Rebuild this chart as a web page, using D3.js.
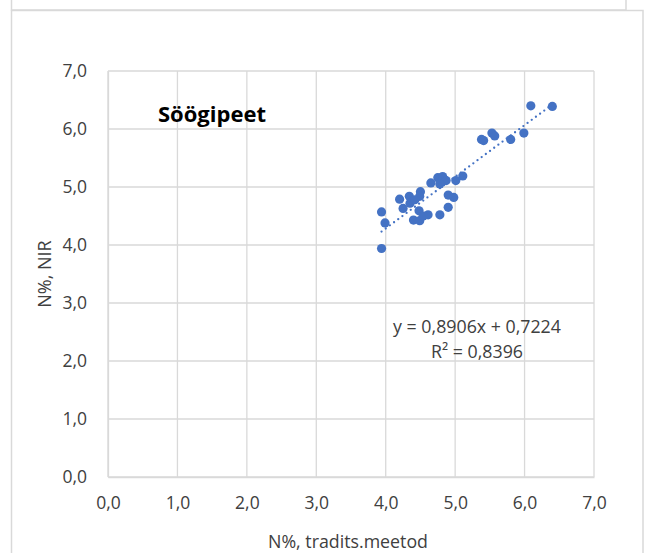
<!DOCTYPE html>
<html><head><meta charset="utf-8">
<script src="https://cdn.jsdelivr.net/npm/d3@7"></script>
<style>body{margin:0;background:#fff;} svg{display:block;}</style>
</head><body>
<script>
const xValues = [6.09,6.40,5.38,5.41,5.53,5.57,5.80,5.99,5.11,5.01,4.65,4.78,4.84,4.75,4.82,4.87,4.78,4.20,4.34,4.50,4.49,4.25,4.35,4.42,4.90,4.98,4.90,4.78,4.61,4.48,4.40,4.49,4.54,3.94,3.99,3.94];
const yValues = [6.40,6.39,5.82,5.80,5.93,5.88,5.82,5.93,5.19,5.11,5.07,5.13,5.13,5.16,5.18,5.11,5.05,4.79,4.84,4.92,4.84,4.63,4.72,4.78,4.86,4.82,4.65,4.52,4.52,4.59,4.43,4.42,4.50,4.57,4.38,3.94];
const xTicks = [0,1,2,3,4,5,6,7];
const yTicks = [0,1,2,3,4,5,6,7];
const trendCoef = [0.8906, 0.7224];
const title = "Söögipeet";
const xTitle = "N%, tradits.meetod";
const yTitle = "N%, NIR";
const eqLines = ["y = 0,8906x + 0,7224", "R² = 0,8396"];

const W = 652, H = 553;
const svg = d3.select("body").append("svg").attr("width", W).attr("height", H);
const font = "'Open Sans', sans-serif";
const grey = "#d9d9d9";
const blue = "#4472C4";
const txt = "#404040";

// frames
svg.append("path").attr("d", "M11.5,0 V10 H626 V0").attr("fill","none").attr("stroke",grey).attr("stroke-width",1.5);
svg.append("path").attr("d", "M11.5,553 V10.5 H643 V553").attr("fill","none").attr("stroke",grey).attr("stroke-width",1.5);

const x = d3.scaleLinear().domain([0,7]).range([108,594]);
const y = d3.scaleLinear().domain([0,7]).range([477,71]);
const fmt = d => d.toFixed(1).replace(".", ",");

// grid
svg.append("g").selectAll("line").data(xTicks).join("line")
  .attr("x1", d=>x(d)).attr("x2", d=>x(d)).attr("y1", y(7)).attr("y2", y(0))
  .attr("stroke", grey).attr("stroke-width", 1.3);
svg.append("g").selectAll("line").data(yTicks).join("line")
  .attr("x1", x(0)).attr("x2", x(7)).attr("y1", d=>y(d)).attr("y2", d=>y(d))
  .attr("stroke", grey).attr("stroke-width", 1.3);

// axes
const xAxis = svg.append("g").attr("transform", `translate(0,${y(0)})`)
  .call(d3.axisBottom(x).tickValues(xTicks).tickFormat(fmt).tickSize(0).tickPadding(20));
const yAxis = svg.append("g").attr("transform", `translate(${x(0)},0)`)
  .call(d3.axisLeft(y).tickValues(yTicks).tickFormat(fmt).tickSize(0).tickPadding(21));
[xAxis, yAxis].forEach(g => {
  g.select(".domain").attr("stroke", grey).attr("stroke-width", 1.3);
  g.selectAll("text").attr("font-family", font).attr("font-size", 17.5).attr("fill", txt);
});

// trendline
const xmin = d3.min(xValues), xmax = d3.max(xValues);
svg.append("line")
  .attr("x1", x(xmin)).attr("y1", y(trendCoef[0]*xmin + trendCoef[1]))
  .attr("x2", x(xmax)).attr("y2", y(trendCoef[0]*xmax + trendCoef[1]))
  .attr("stroke", blue).attr("stroke-width", 2.3).attr("stroke-linecap","round")
  .attr("stroke-dasharray", "0 5.2");

// points
svg.append("g").selectAll("circle").data(xValues.map((v,i)=>[v,yValues[i]])).join("circle")
  .attr("cx", d=>x(d[0])).attr("cy", d=>y(d[1])).attr("r", 4.6).attr("fill", blue);

// texts
svg.append("text").attr("x", 158).attr("y", 122).text(title)
  .attr("font-family", font).attr("font-weight", "bold").attr("font-size", 22).attr("fill", "#000");
svg.append("text").attr("x", 348).attr("y", 548).attr("text-anchor","middle").text(xTitle)
  .attr("font-family", font).attr("font-size", 17.8).attr("fill", txt);
svg.append("text").attr("transform", "translate(51,274) rotate(-90)").attr("text-anchor","middle").text(yTitle)
  .attr("font-family", font).attr("font-size", 18).attr("fill", txt);
eqLines.forEach((t,i) => {
  svg.append("text").attr("x", 477).attr("y", 333 + i*25).attr("text-anchor","middle").text(t)
    .attr("font-family", font).attr("font-size", 17.8).attr("fill", txt);
});
</script>
</body></html>
